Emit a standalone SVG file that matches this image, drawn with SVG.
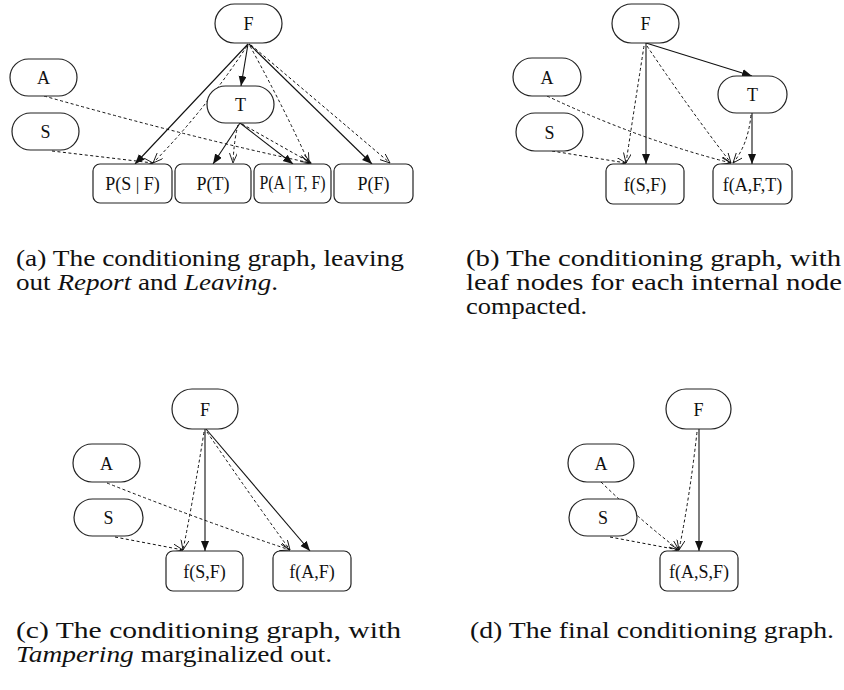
<svg xmlns="http://www.w3.org/2000/svg" width="844" height="690" viewBox="0 0 844 690">
<defs>
<marker id="sol" markerUnits="userSpaceOnUse" markerWidth="12" markerHeight="10" refX="10" refY="4" orient="auto">
<path d="M0,0 L10,4 L0,8 z" fill="#111"/>
</marker>
<marker id="opn" markerUnits="userSpaceOnUse" markerWidth="12" markerHeight="10" refX="10" refY="4" orient="auto">
<path d="M0,0 L10,4 L0,8" fill="none" stroke="#111" stroke-width="0.9"/>
</marker>
<style>
.pill{fill:#fff;stroke:#222;stroke-width:1.2}
.box{fill:#fff;stroke:#222;stroke-width:1.2}
.lbl{font-family:"Liberation Serif",serif;font-size:18px;fill:#111;text-anchor:middle}
.s{fill:none;stroke:#111;stroke-width:1.1;marker-end:url(#sol)}
.d{fill:none;stroke:#111;stroke-width:1;stroke-dasharray:3 2.5;marker-end:url(#opn)}
.cap{font-family:"Liberation Serif",serif;font-size:23px;fill:#111}
.it{font-style:italic}
</style>
</defs>

<!-- Panel (a) -->
<g id="a-edges">
<path class="s" d="M248,44 L135,164"/>
<path class="d" d="M247,46 Q205,110 153,163"/>
<path class="s" d="M248,44 L241,86"/>
<path class="d" d="M250,46 Q285,110 309,163"/>
<path class="s" d="M249,44 L372,164"/>
<path class="d" d="M251,45 L390,163"/>
<path class="s" d="M240,123 L213,164"/>
<path class="d" d="M238,125 Q234,140 233,163"/>
<path class="s" d="M240,123 L293,164"/>
<path class="d" d="M242,124 L311,163"/>
<path class="d" d="M44,96 Q200,140 311,163"/>
<path class="d" d="M52,151 L153,163"/>
</g>
<g id="a-F"><rect class="pill" x="215" y="4" width="67" height="39" rx="19.5"/><text class="lbl" x="248.5" y="30">F</text></g>
<g id="a-A"><rect class="pill" x="10" y="59" width="67" height="37" rx="18.5"/><text class="lbl" x="43.5" y="84">A</text></g>
<g id="a-S"><rect class="pill" x="12" y="113" width="67" height="37" rx="18.5"/><text class="lbl" x="45.5" y="138">S</text></g>
<g id="a-T"><rect class="pill" x="207" y="86" width="67" height="37" rx="18.5"/><text class="lbl" x="240.5" y="111">T</text></g>
<g id="a-PSF"><rect class="box" x="93" y="164" width="79" height="39" rx="7"/><text class="lbl" x="132.5" y="190">P(S | F)</text></g>
<g id="a-PT"><rect class="box" x="175" y="164" width="76" height="39" rx="7"/><text class="lbl" x="213" y="190">P(T)</text></g>
<g id="a-PATF"><rect class="box" x="254" y="164" width="77" height="39" rx="7"/><text class="lbl" x="292.5" y="189" font-size="15" textLength="66" lengthAdjust="spacingAndGlyphs">P(A | T, F)</text></g>
<g id="a-PF"><rect class="box" x="334" y="164" width="79" height="39" rx="7"/><text class="lbl" x="373.5" y="190">P(F)</text></g>

<!-- Panel (b) -->
<g id="b-edges">
<path class="s" d="M646,43 L646,164"/>
<path class="d" d="M644,46 Q634,110 626,163"/>
<path class="s" d="M646,43 L752,76"/>
<path class="d" d="M647,46 Q690,110 731,163"/>
<path class="d" d="M547,96 Q640,140 731,163"/>
<path class="d" d="M552,151 L626,163"/>
<path class="s" d="M752,113 L752,164"/>
<path class="d" d="M751,115 Q748,145 733,163"/>
</g>
<g id="b-F"><rect class="pill" x="612" y="4" width="67" height="39" rx="19.5"/><text class="lbl" x="645.5" y="30">F</text></g>
<g id="b-A"><rect class="pill" x="513" y="58" width="68" height="38" rx="19"/><text class="lbl" x="547" y="84">A</text></g>
<g id="b-S"><rect class="pill" x="516" y="113" width="67" height="38" rx="19"/><text class="lbl" x="549.5" y="139">S</text></g>
<g id="b-T"><rect class="pill" x="718" y="76" width="69" height="37" rx="18.5"/><text class="lbl" x="752.5" y="101">T</text></g>
<g id="b-fSF"><rect class="box" x="606" y="164" width="78" height="40" rx="7"/><text class="lbl" x="645" y="191">f(S,F)</text></g>
<g id="b-fAFT"><rect class="box" x="713" y="164" width="79" height="40" rx="7"/><text class="lbl" x="752.5" y="191">f(A,F,T)</text></g>

<!-- Panel (c) -->
<g id="c-edges">
<path class="s" d="M205,429 L205,551"/>
<path class="d" d="M204,432 Q194,495 183,550"/>
<path class="s" d="M206,429 L310,551"/>
<path class="d" d="M207,432 Q250,495 290,550"/>
<path class="d" d="M107,483 Q200,520 290,550"/>
<path class="d" d="M115,537 L183,550"/>
</g>
<g id="c-F"><rect class="pill" x="172" y="389" width="66" height="40" rx="20"/><text class="lbl" x="205" y="416">F</text></g>
<g id="c-A"><rect class="pill" x="73" y="444" width="67" height="38" rx="19"/><text class="lbl" x="106.5" y="470">A</text></g>
<g id="c-S"><rect class="pill" x="74" y="499" width="69" height="37" rx="18.5"/><text class="lbl" x="108.5" y="524">S</text></g>
<g id="c-fSF"><rect class="box" x="166" y="551" width="77" height="40" rx="7"/><text class="lbl" x="204.5" y="578">f(S,F)</text></g>
<g id="c-fAF"><rect class="box" x="273" y="551" width="78" height="40" rx="7"/><text class="lbl" x="312" y="578">f(A,F)</text></g>

<!-- Panel (d) -->
<g id="d-edges">
<path class="s" d="M699,429 L699,551"/>
<path class="d" d="M697,432 Q690,495 679,550"/>
<path class="d" d="M601,482 Q640,520 679,550"/>
<path class="d" d="M610,537 L679,550"/>
</g>
<g id="d-F"><rect class="pill" x="666" y="389" width="65" height="40" rx="20"/><text class="lbl" x="698.5" y="416">F</text></g>
<g id="d-A"><rect class="pill" x="568" y="444" width="66" height="38" rx="19"/><text class="lbl" x="601" y="470">A</text></g>
<g id="d-S"><rect class="pill" x="569" y="499" width="68" height="37" rx="18.5"/><text class="lbl" x="603" y="524">S</text></g>
<g id="d-fASF"><rect class="box" x="660" y="551" width="78" height="40" rx="7"/><text class="lbl" x="699" y="578">f(A,S,F)</text></g>

<!-- Captions -->
<g id="captions">
<text class="cap" x="16" y="266" textLength="388" lengthAdjust="spacingAndGlyphs">(a) The conditioning graph, leaving</text>
<text class="cap" x="16" y="290" textLength="262" lengthAdjust="spacingAndGlyphs">out <tspan class="it">Report</tspan> and <tspan class="it">Leaving</tspan>.</text>
<text class="cap" x="466" y="266" textLength="375" lengthAdjust="spacingAndGlyphs">(b) The conditioning graph, with</text>
<text class="cap" x="466" y="290" textLength="376" lengthAdjust="spacingAndGlyphs">leaf nodes for each internal node</text>
<text class="cap" x="466" y="314" textLength="121" lengthAdjust="spacingAndGlyphs">compacted.</text>
<text class="cap" x="16" y="638" textLength="385" lengthAdjust="spacingAndGlyphs">(c) The conditioning graph, with</text>
<text class="cap" x="16" y="662" textLength="316" lengthAdjust="spacingAndGlyphs"><tspan class="it">Tampering</tspan> marginalized out.</text>
<text class="cap" x="470" y="638" textLength="364" lengthAdjust="spacingAndGlyphs">(d) The final conditioning graph.</text>
</g>
</svg>
